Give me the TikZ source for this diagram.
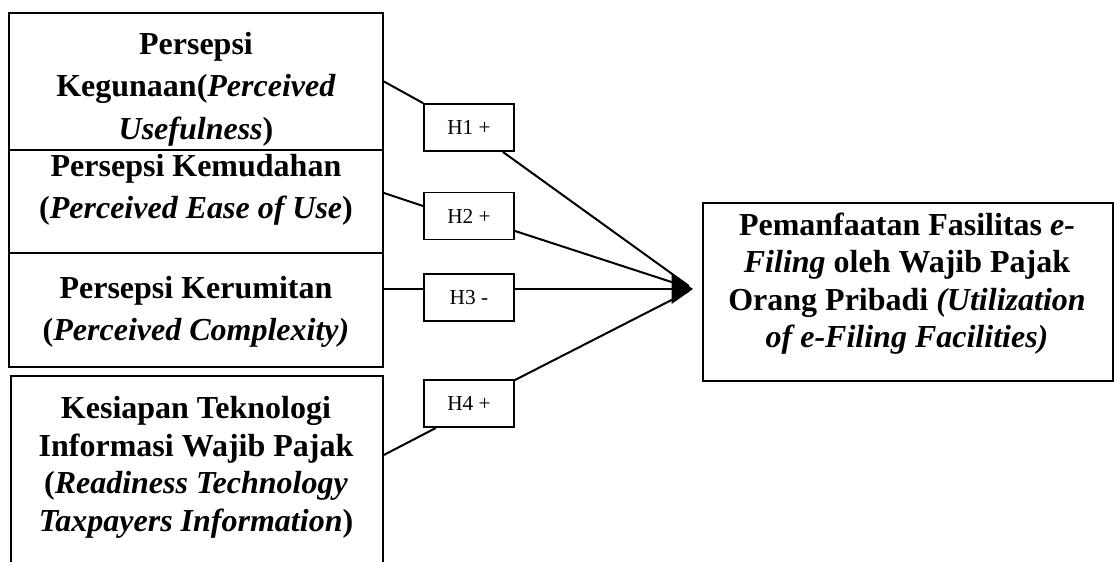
\documentclass[tikz,border=0pt]{standalone}
\usepackage{fontspec}
\setmainfont{Liberation Serif}
\usetikzlibrary{arrows.meta}
\tikzset{var box/.style={draw,rectangle,line width=0.7pt,inner sep=0}}
\tikzset{var text/.style={inner sep=0,anchor=north,align=center,font=\bfseries\fontsize{12}{15.8}\selectfont}}
\tikzset{var text tight/.style={var text,font=\bfseries\fontsize{12}{14.1}\selectfont}}
\tikzset{hyp box/.style={draw,rectangle,line width=0.7pt,minimum width=33.75pt,minimum height=17.6pt,inner sep=0,font=\fontsize{8}{9.6}\selectfont}}
\tikzset{hyp line/.style={line width=0.75pt}}

\begin{document}
\begin{tikzpicture}[x=0.375pt,y=-0.375pt]

            \def \boxX{196}
            \def \hypX{469}

            \useasboundingbox (0,0) rectangle (1114,561);
            \clip (0,0) rectangle (1114,561);

            % independent variables
            \node[var box, minimum width=140.25pt, minimum height=51.4pt] (kegunaan) at (\boxX,81.5) {};
            \node[var box, minimum width=140.25pt, minimum height=38.6pt] (kemudahan) at (\boxX,201.5) {};
            \node[var box, minimum width=140.25pt, minimum height=42.75pt] (kerumitan) at (\boxX,310) {};
            \node[var box, minimum width=139.5pt, minimum height=84pt] (kesiapan) at (197,488) {};

            \node[var text] (kegunaanText) at (\boxX,32) {Persepsi\\Kegunaan(\textit{Perceived}\\\textit{Usefulness})};
            \node[var text] (kemudahanText) at (\boxX,154) {Persepsi Kemudahan\\(\textit{Perceived Ease of Use})};
            \node[var text] (kerumitanText) at (\boxX,276) {Persepsi Kerumitan\\(\textit{Perceived Complexity)}};
            \node[var text tight] (kesiapanText) at (\boxX,396) {Kesiapan Teknologi\\Informasi Wajib Pajak\\(\textit{Readiness Technology}\\\textit{Taxpayers Information})};

            % dependent variable
            \node[var box, minimum width=153.75pt, minimum height=66.75pt] (pemanfaatan) at (908,292) {};
            \node[var text tight] (pemanfaatanText) at (907,212) {Pemanfaatan Fasilitas \textit{e-}\\\textit{Filing} oleh Wajib Pajak\\Orang Pribadi \textit{(Utilization}\\\textit{of e-Filing Facilities)}};

            % hypotheses
            \node[hyp box] (h1) at (\hypX,127.5) {H1 +};
            \node[hyp box] (h2) at (\hypX,216) {H2 +};
            \node[hyp box] (h3) at (\hypX,297.5) {H3 -};
            \node[hyp box] (h4) at (\hypX,403.5) {H4 +};

            \coordinate (tip) at (693,289);

            \draw[hyp line] (kegunaan.east) -- (h1.north west);
            \draw[hyp line, shorten >=2pt] (h1) -- (tip);
            \draw[hyp line] ([yshift=3.2pt]kemudahan.east) -- ([yshift=3.75pt]h2.west);
            \draw[hyp line, shorten >=2pt] (h2) -- (tip);
            \draw[hyp line] (kerumitan.east |- tip) -- (h3.west |- tip);
            \draw[hyp line, -{Triangle[length=8pt,width=11pt]}] (h3.east |- tip) -- (tip);
            \draw[hyp line] ([yshift=12.4pt]kesiapan.east) -- ([xshift=-12.4pt]h4.south);
            \draw[hyp line, shorten >=2pt] (h4) -- (tip);

\end{tikzpicture}
\end{document}
